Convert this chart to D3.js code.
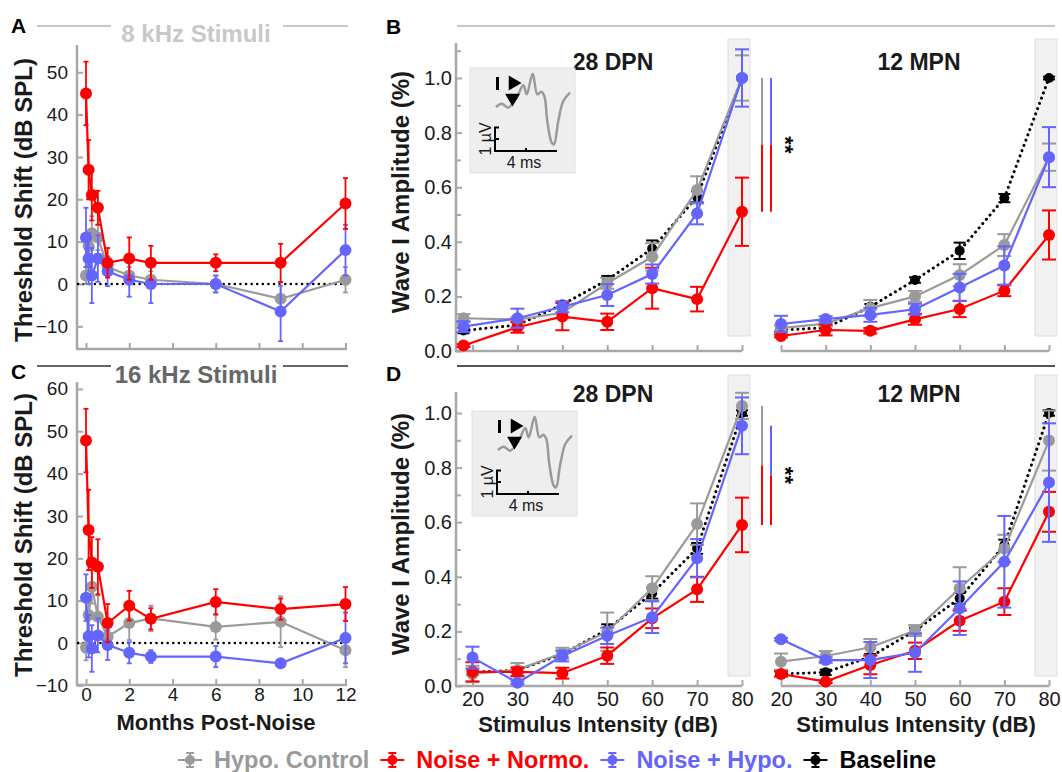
<!DOCTYPE html>
<html>
<head>
<meta charset="utf-8">
<script src="https://cdn.jsdelivr.net/npm/d3@7"></script>
<style>
body { margin: 0; background: #fff; }
svg { display: block; font-family: "Liberation Sans", Arial, sans-serif; }
</style>
</head>
<body>
<svg id="chart" width="1062" height="772"></svg>
<script>
// ---------- data: threshold shift (A = 8 kHz, C = 16 kHz) ----------
const months = [0, 0.12, 0.27, 0.55, 1, 2, 3, 6, 9, 12];
const monthTicks = [0, 2, 4, 6, 8, 10, 12];

const a8Gray = [2, 9, 12, 11, 4, 2, 1, 0, -3.5, 1];
const a8GrayErr = [2, 3, 4, 3, 2, 2, 2, 2, 3, 3];
const a8Red = [45, 27, 21, 18, 5, 6, 5, 5, 5, 19];
const a8RedErr = [7.5, 7, 6, 4, 3.5, 5, 4, 2, 4.5, 6];
const a8Blue = [11, 6, 2, 6, 3, 1, 0, 0, -6.5, 8];
const a8BlueErr = [7, 6, 6.5, 5.5, 3.5, 4, 4.5, 2, 7, 6];

const c16Gray = [-1.1, 6.6, 13.3, 6.2, 1.5, 4.7, 5.8, 3.8, 5, -1.7];
const c16GrayErr = [3, 5, 4, 5, 2, 4, 3, 3, 6, 4];
const c16Red = [47.8, 26.7, 19, 18, 4.7, 8.8, 5.7, 9.7, 8, 9.2];
const c16RedErr = [7.5, 9.5, 6, 6.5, 4.5, 3.5, 2.5, 3, 2.5, 4];
const c16Blue = [10.7, 1.6, -1.3, 1.8, -0.5, -2.3, -3.2, -3.2, -4.8, 1.2];
const c16BlueErr = [5.5, 5, 5.5, 4, 3.5, 2.5, 1.5, 2.5, 1, 6];

// ---------- data: wave I amplitude (B = 8 kHz, D = 16 kHz) ----------
const intensities = [20, 30, 40, 50, 60, 70, 80];
const intensitiesB28 = [18, 30, 40, 50, 60, 70, 80];

const b28Black = [0.075, 0.095, 0.17, 0.26, 0.375, 0.565, 1.0];
const b28BlackErr = [0.01, 0.01, 0.01, 0.015, 0.03, 0.02, 0.005];
const b28Gray = [0.12, 0.115, 0.14, 0.248, 0.345, 0.59, 1.0];
const b28GrayErr = [0.015, 0.01, 0.02, 0.02, 0.05, 0.05, 0.083];
const b28Red = [0.02, 0.087, 0.126, 0.107, 0.23, 0.19, 0.51];
const b28RedErr = [0.005, 0.02, 0.05, 0.03, 0.075, 0.045, 0.125];
const b28Blue = [0.089, 0.12, 0.162, 0.205, 0.282, 0.504, 1.0];
const b28BlueErr = [0.02, 0.035, 0.02, 0.04, 0.035, 0.04, 0.105];

const b12Black = [0.077, 0.085, 0.162, 0.26, 0.367, 0.56, 1.0];
const b12BlackErr = [0.005, 0.005, 0.01, 0.01, 0.03, 0.015, 0.005];
const b12Gray = [0.084, 0.10, 0.157, 0.2, 0.278, 0.388, 0.71];
const b12GrayErr = [0.01, 0.01, 0.03, 0.02, 0.04, 0.04, 0.05];
const b12Red = [0.055, 0.077, 0.074, 0.116, 0.154, 0.221, 0.425];
const b12RedErr = [0.005, 0.02, 0.01, 0.02, 0.03, 0.02, 0.09];
const b12Blue = [0.099, 0.117, 0.132, 0.153, 0.233, 0.313, 0.71];
const b12BlueErr = [0.03, 0.01, 0.025, 0.02, 0.05, 0.07, 0.11];

const d28Black = [0.05, 0.058, 0.117, 0.206, 0.34, 0.504, 1.0];
const d28BlackErr = [0.01, 0.01, 0.01, 0.02, 0.02, 0.02, 0.01];
const d28Gray = [0.044, 0.059, 0.12, 0.199, 0.358, 0.593, 1.026];
const d28GrayErr = [0.03, 0.025, 0.02, 0.07, 0.044, 0.076, 0.048];
const d28Red = [0.052, 0.052, 0.047, 0.111, 0.248, 0.354, 0.59];
const d28RedErr = [0.035, 0.015, 0.02, 0.03, 0.036, 0.046, 0.1];
const d28Blue = [0.104, 0.012, 0.11, 0.184, 0.252, 0.468, 0.953];
const d28BlueErr = [0.04, 0.005, 0.02, 0.03, 0.058, 0.07, 0.104];

const d12Black = [0.044, 0.05, 0.107, 0.203, 0.321, 0.516, 1.0];
const d12BlackErr = [0.005, 0.01, 0.01, 0.01, 0.02, 0.02, 0.01];
const d12Gray = [0.089, 0.11, 0.142, 0.203, 0.358, 0.504, 0.899];
const d12GrayErr = [0.03, 0.018, 0.03, 0.02, 0.077, 0.05, 0.11];
const d12Red = [0.044, 0.016, 0.077, 0.129, 0.239, 0.309, 0.638];
const d12RedErr = [0.01, 0.005, 0.034, 0.03, 0.037, 0.049, 0.073];
const d12Blue = [0.171, 0.095, 0.095, 0.122, 0.285, 0.455, 0.745];
const d12BlueErr = [0.005, 0.01, 0.066, 0.07, 0.098, 0.168, 0.217];

const ampTicks = [0, 0.2, 0.4, 0.6, 0.8, 1.0];
const ampMinor = [0.1, 0.3, 0.5, 0.7, 0.9];

// inset ABR waveform, in inset-local units (0..105)
const waveX = [26, 31.7, 38.3, 46.7, 53.3, 56.7, 62.7, 67.3, 71.3, 74.3, 77.3, 81.7, 84, 88.3, 93.3, 100];
const waveY = [39, 35.7, 39.7, 29.7, 17, 26.3, 5.7, 26.3, 23.7, 28, 53, 74.7, 76.3, 53, 33, 24.7];

const legendNames = ["Hypo. Control", "Noise + Normo.", "Noise + Hypo.", "Baseline"];

// ---------- styles ----------
const GRAY = "#9a9a9a", RED = "#ff0000", BLUE = "#6464ff", BLACK = "#000000";
const legendColors = [GRAY, RED, BLUE, BLACK];
const AXIS = "#a8a8a8";
const TXT = "#1a1a1a";

const svg = d3.select("#chart");
svg.append("rect").attr("width", 1062).attr("height", 772).attr("fill", "#fff");

function styleAxis(sel, size) {
  sel.attr("font-size", null).attr("font-family", null);
  sel.select(".domain").remove();
  sel.selectAll(".tick line").attr("stroke", AXIS).attr("stroke-width", 2);
  sel.selectAll(".tick text").attr("font-size", size).attr("fill", TXT);
}

function drawSeries(g, x, y, xs, vals, errs, color, o) {
  const pts = xs.map((d, i) => ({x: d, v: vals[i], e: errs[i]}));
  const line = d3.line().x(d => x(d.x)).y(d => y(d.v));
  g.append("path").datum(pts)
    .attr("d", line).attr("fill", "none").attr("stroke", color)
    .attr("stroke-width", o.lw)
    .attr("stroke-dasharray", o.dash || null)
    .attr("stroke-linecap", o.dash ? "round" : "butt");
  const eb = g.append("g").attr("stroke", color).attr("stroke-width", o.ew);
  pts.forEach(d => {
    const cx = x(d.x);
    eb.append("line").attr("x1", cx).attr("x2", cx).attr("y1", y(d.v - d.e)).attr("y2", y(d.v + d.e));
    [d.v - d.e, d.v + d.e].forEach(v => {
      eb.append("line").attr("x1", cx - o.cap).attr("x2", cx + o.cap).attr("y1", y(v)).attr("y2", y(v));
    });
  });
  g.append("g").selectAll("circle").data(pts).join("circle")
    .attr("cx", d => x(d.x)).attr("cy", d => y(d.v)).attr("r", o.r).attr("fill", color);
}

// ---------- threshold panels ----------
function thresholdPanel(cfg) {
  const g = svg.append("g");
  const x = d3.scaleLinear().domain([0, 12]).range([86, 345.5]);
  const y = d3.scaleLinear().domain([0, 10]).range([cfg.zero, cfg.zero - 42.35]);

  // header with title and side rules
  g.append("line").attr("x1", 37).attr("x2", 111).attr("y1", cfg.ruleY).attr("y2", cfg.ruleY)
    .attr("stroke", cfg.titleColor).attr("stroke-width", 2);
  g.append("line").attr("x1", 283).attr("x2", 348).attr("y1", cfg.ruleY).attr("y2", cfg.ruleY)
    .attr("stroke", cfg.titleColor).attr("stroke-width", 2);
  g.append("text").attr("x", 196).attr("y", cfg.titleY).attr("text-anchor", "middle")
    .attr("font-size", 24).attr("font-weight", "bold").attr("fill", cfg.titleColor).text(cfg.title);
  g.append("text").attr("x", 11).attr("y", cfg.letterY).attr("font-size", 21)
    .attr("font-weight", "bold").attr("fill", "#000").text(cfg.letter);

  // axes
  g.append("line").attr("x1", 77).attr("x2", 77).attr("y1", cfg.top).attr("y2", cfg.bottom)
    .attr("stroke", AXIS).attr("stroke-width", 2.5);
  g.append("line").attr("x1", 76).attr("x2", 347).attr("y1", cfg.bottom).attr("y2", cfg.bottom)
    .attr("stroke", AXIS).attr("stroke-width", 2.5);
  const ya = g.append("g").attr("transform", "translate(77,0)")
    .call(d3.axisLeft(y).tickValues(cfg.yTicks).tickSize(-6).tickPadding(9).tickFormat(d3.format("d")));
  styleAxis(ya, 19);
  const xa = g.append("g").attr("transform", `translate(0,${cfg.bottom})`)
    .call(d3.axisBottom(x).tickValues(monthTicks).tickSize(-6).tickPadding(2).tickFormat(cfg.xLabels ? d3.format("d") : ""));
  styleAxis(xa, 19);

  g.append("text").attr("transform", `translate(32,${cfg.labelY}) rotate(-90)`)
    .attr("text-anchor", "middle").attr("font-size", 24).attr("font-weight", "bold")
    .attr("fill", TXT).text("Threshold Shift (dB SPL)");

  // zero reference
  g.append("line").attr("x1", 78).attr("x2", 343).attr("y1", y(0)).attr("y2", y(0))
    .attr("stroke", "#000").attr("stroke-width", 2.5).attr("stroke-dasharray", "0.1,5.5")
    .attr("stroke-linecap", "round");

  const o = {lw: 2.2, ew: 1.8, cap: 2.5, r: 6};
  drawSeries(g, x, y, months, cfg.gray, cfg.grayErr, GRAY, o);
  drawSeries(g, x, y, months, cfg.blue, cfg.blueErr, BLUE, o);
  drawSeries(g, x, y, months, cfg.red, cfg.redErr, RED, o);
  return g;
}

thresholdPanel({
  letter: "A", letterY: 33, title: "8 kHz Stimuli", titleColor: "#c8c8c8", titleY: 42, ruleY: 26,
  zero: 284, top: 45, bottom: 349, yTicks: [-10, 0, 10, 20, 30, 40, 50], labelY: 200, xLabels: false,
  gray: a8Gray, grayErr: a8GrayErr, red: a8Red, redErr: a8RedErr, blue: a8Blue, blueErr: a8BlueErr
});
thresholdPanel({
  letter: "C", letterY: 379, title: "16 kHz Stimuli", titleColor: "#666666", titleY: 383, ruleY: 366,
  zero: 643, top: 382, bottom: 685, yTicks: [-10, 0, 10, 20, 30, 40, 50, 60], labelY: 535, xLabels: true,
  gray: c16Gray, grayErr: c16GrayErr, red: c16Red, redErr: c16RedErr, blue: c16Blue, blueErr: c16BlueErr
});
svg.append("text").attr("x", 216).attr("y", 730).attr("text-anchor", "middle")
  .attr("font-size", 22).attr("font-weight", "bold").attr("fill", TXT).text("Months Post-Noise");

// ---------- amplitude panels ----------
function inset(g, bx, by) {
  const lx = d3.scaleLinear().domain([0, 105]).range([bx, bx + 105]);
  const ly = d3.scaleLinear().domain([0, 105]).range([by, by + 105]);
  g.append("rect").attr("x", bx).attr("y", by).attr("width", 105).attr("height", 105)
    .attr("fill", "#eeeeee").attr("stroke", "#e0e0e0");
  g.append("path").datum(waveX.map((d, i) => [d, waveY[i]]))
    .attr("d", d3.line().x(d => lx(d[0])).y(d => ly(d[1])).curve(d3.curveCatmullRom))
    .attr("fill", "none").attr("stroke", "#9a9a9a").attr("stroke-width", 2.5);
  g.append("line").attr("x1", lx(27.5)).attr("x2", lx(27.5)).attr("y1", ly(9)).attr("y2", ly(22))
    .attr("stroke", "#000").attr("stroke-width", 3);
  g.append("path").attr("d", d3.symbol(d3.symbolTriangle, 95)())
    .attr("transform", `translate(${lx(43)},${ly(15)}) rotate(90)`).attr("fill", "#000");
  g.append("path").attr("d", d3.symbol(d3.symbolTriangle, 95)())
    .attr("transform", `translate(${lx(42.5)},${ly(30)}) rotate(180)`).attr("fill", "#000");
  const sb = g.append("g").attr("stroke", "#000").attr("stroke-width", 2).attr("fill", "none");
  sb.append("path").attr("d", `M${lx(29)},${ly(59.5)}H${lx(25)}V${ly(83)}H${lx(87)}`);
  sb.append("line").attr("x1", lx(25)).attr("x2", lx(29)).attr("y1", ly(71)).attr("y2", ly(71));
  sb.append("line").attr("x1", lx(56)).attr("x2", lx(56)).attr("y1", ly(80)).attr("y2", ly(83));
  g.append("text").attr("transform", `translate(${lx(21)},${ly(71)}) rotate(-90)`)
    .attr("text-anchor", "middle").attr("font-size", 16).attr("fill", TXT).text("1 µV");
  g.append("text").attr("x", lx(54)).attr("y", ly(100)).attr("text-anchor", "middle")
    .attr("font-size", 16).attr("fill", TXT).text("4 ms");
}

function ampPanel(cfg) {
  const g = svg.append("g");
  const y = d3.scaleLinear().domain([0, 1]).range([cfg.base, cfg.base - 273]);
  const xl = d3.scaleLinear().domain([20, 80]).range([472.5, 742]);
  const xr = d3.scaleLinear().domain([20, 80]).range([781, 1049]);

  g.append("line").attr("x1", 457).attr("x2", 1055).attr("y1", cfg.ruleY).attr("y2", cfg.ruleY)
    .attr("stroke", cfg.ruleColor).attr("stroke-width", 2);
  g.append("text").attr("x", 386).attr("y", cfg.letterY).attr("font-size", 21)
    .attr("font-weight", "bold").attr("fill", "#000").text(cfg.letter);

  // shaded 80 dB columns
  [xl, xr].forEach(x => {
    g.append("rect").attr("x", x(80) - 14).attr("y", cfg.boxTop).attr("width", 22)
      .attr("height", cfg.boxBottom - cfg.boxTop).attr("fill", "#f1f1f1").attr("stroke", "#dedede");
  });

  // axes
  g.append("line").attr("x1", 456).attr("x2", 456).attr("y1", cfg.top).attr("y2", cfg.base)
    .attr("stroke", AXIS).attr("stroke-width", 2.5);
  g.append("line").attr("x1", 455).attr("x2", xl(80)).attr("y1", cfg.base).attr("y2", cfg.base)
    .attr("stroke", AXIS).attr("stroke-width", 2.5);
  g.append("line").attr("x1", xr(20)).attr("x2", xr(80)).attr("y1", cfg.base).attr("y2", cfg.base)
    .attr("stroke", AXIS).attr("stroke-width", 2.5);
  const ya = g.append("g").attr("transform", "translate(456,0)")
    .call(d3.axisLeft(y).tickValues(ampTicks).tickSize(-6).tickPadding(4).tickFormat(d3.format(".1f")));
  styleAxis(ya, 20);
  const minor = ampMinor.concat(y(1.1) > cfg.top ? [1.1] : []);
  const ym = g.append("g").attr("transform", "translate(456,0)")
    .call(d3.axisLeft(y).tickValues(minor).tickSize(-5).tickFormat(""));
  styleAxis(ym, 20);
  [xl, xr].forEach(x => {
    const xa = g.append("g").attr("transform", `translate(0,${cfg.base})`)
      .call(d3.axisBottom(x).tickValues(intensities).tickSize(-6).tickPadding(6)
        .tickFormat(cfg.xLabels ? d3.format("d") : ""));
    styleAxis(xa, 20);
  });

  g.append("text").attr("transform", `translate(409,${cfg.labelY}) rotate(-90)`)
    .attr("text-anchor", "middle").attr("font-size", 24).attr("font-weight", "bold")
    .attr("fill", TXT).text("Wave I Amplitude (%)");
  g.append("text").attr("x", 613).attr("y", cfg.subY).attr("text-anchor", "middle")
    .attr("font-size", 23).attr("font-weight", "bold").attr("fill", TXT).text("28 DPN");
  g.append("text").attr("x", 919).attr("y", cfg.subY).attr("text-anchor", "middle")
    .attr("font-size", 23).attr("font-weight", "bold").attr("fill", TXT).text("12 MPN");

  inset(g, cfg.insetX, cfg.insetY);

  const o = {lw: 2.2, ew: 2, cap: 7, r: 6};
  const ob = {lw: 3, ew: 2, cap: 6, r: 5, dash: "0.1,5.5"};
  [[xl, cfg.left, cfg.leftX], [xr, cfg.right, intensities]].forEach(([x, s, xs]) => {
    drawSeries(g, x, y, xs, s.black, s.blackErr, BLACK, ob);
    drawSeries(g, x, y, xs, s.gray, s.grayErr, GRAY, o);
    drawSeries(g, x, y, xs, s.red, s.redErr, RED, o);
    drawSeries(g, x, y, xs, s.blue, s.blueErr, BLUE, o);
  });

  // significance bars at 80 dB (28 DPN)
  const n = intensities.length - 1;
  const r80 = cfg.left.red[n];
  [[762, cfg.left.gray[n], GRAY], [771, cfg.left.blue[n], BLUE]].forEach(([bx, v, c]) => {
    const mid = (v + r80) / 2;
    g.append("line").attr("x1", bx).attr("x2", bx).attr("y1", y(v)).attr("y2", y(mid))
      .attr("stroke", c).attr("stroke-width", 2);
    g.append("line").attr("x1", bx).attr("x2", bx).attr("y1", y(mid)).attr("y2", y(r80))
      .attr("stroke", RED).attr("stroke-width", 2);
  });
  const starY = y((cfg.left.blue[n] + r80) / 2);
  g.append("text").attr("transform", `translate(778,${starY}) rotate(90)`)
    .attr("text-anchor", "middle").attr("font-size", 22).attr("font-weight", "bold")
    .attr("fill", "#000").text("**");
}

ampPanel({
  letter: "B", letterY: 34, ruleY: 26, ruleColor: "#c8c8c8", base: 351, top: 43,
  boxTop: 39, boxBottom: 336, labelY: 192, subY: 70, insetX: 470, insetY: 68, xLabels: false,
  leftX: intensitiesB28,
  left: {black: b28Black, blackErr: b28BlackErr, gray: b28Gray, grayErr: b28GrayErr,
         red: b28Red, redErr: b28RedErr, blue: b28Blue, blueErr: b28BlueErr},
  right: {black: b12Black, blackErr: b12BlackErr, gray: b12Gray, grayErr: b12GrayErr,
          red: b12Red, redErr: b12RedErr, blue: b12Blue, blueErr: b12BlueErr}
});
ampPanel({
  letter: "D", letterY: 381, ruleY: 366, ruleColor: "#555555", base: 686, top: 392,
  boxTop: 375, boxBottom: 676, labelY: 534, subY: 402, insetX: 472, insetY: 411, xLabels: true,
  leftX: intensities,
  left: {black: d28Black, blackErr: d28BlackErr, gray: d28Gray, grayErr: d28GrayErr,
         red: d28Red, redErr: d28RedErr, blue: d28Blue, blueErr: d28BlueErr},
  right: {black: d12Black, blackErr: d12BlackErr, gray: d12Gray, grayErr: d12GrayErr,
          red: d12Red, redErr: d12RedErr, blue: d12Blue, blueErr: d12BlueErr}
});
["Stimulus Intensity (dB)", "Stimulus Intensity (dB)"].forEach((t, i) => {
  svg.append("text").attr("x", [598, 916][i]).attr("y", 732).attr("text-anchor", "middle")
    .attr("font-size", 22).attr("font-weight", "bold").attr("fill", TXT).text(t);
});

// ---------- legend ----------
const leg = svg.append("g");
let cx = 190;
legendNames.forEach((name, i) => {
  const c = legendColors[i];
  const m = leg.append("g").attr("stroke", c).attr("stroke-width", 2);
  m.append("line").attr("x1", cx - 12).attr("x2", cx + 12).attr("y1", 760).attr("y2", 760);
  m.append("line").attr("x1", cx).attr("x2", cx).attr("y1", 753).attr("y2", 767);
  m.append("line").attr("x1", cx - 4).attr("x2", cx + 4).attr("y1", 753).attr("y2", 753);
  m.append("line").attr("x1", cx - 4).attr("x2", cx + 4).attr("y1", 767).attr("y2", 767);
  leg.append("circle").attr("cx", cx).attr("cy", 760).attr("r", 5).attr("fill", c);
  const t = leg.append("text").attr("x", cx + 24).attr("y", 768).attr("font-size", 23.5)
    .attr("font-weight", "bold").attr("fill", c).text(name);
  cx = cx + 24 + t.node().getComputedTextLength() + 23;
});
</script>
</body>
</html>
